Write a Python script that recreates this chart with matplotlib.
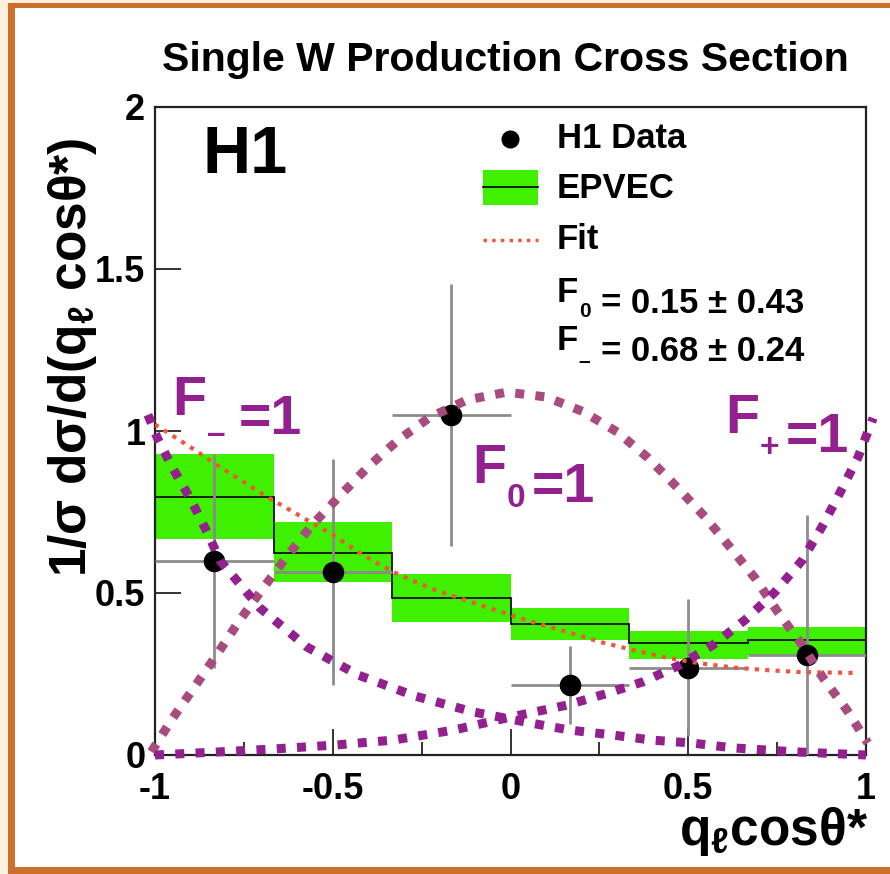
import matplotlib
matplotlib.use('Agg')
import matplotlib.pyplot as plt
from matplotlib.patches import Rectangle
import numpy as np

plt.rcParams['font.family'] = ['Liberation Sans', 'DejaVu Sans']
plt.rcParams['font.weight'] = 'bold'
plt.rcParams['axes.unicode_minus'] = False
plt.rcParams['mathtext.fontset'] = 'custom'
plt.rcParams['mathtext.rm'] = 'Liberation Sans:bold'
plt.rcParams['mathtext.bf'] = 'Liberation Sans:bold'
plt.rcParams['mathtext.it'] = 'Liberation Sans:italic'
plt.rcParams['mathtext.default'] = 'rm'

# bins in q_l cos(theta*)
bin_edges = [-1.0, -2/3, -1/3, 0.0, 1/3, 2/3, 1.0]

# H1 data points
data_x = [-0.833, -0.5, -0.167, 0.167, 0.5, 0.833]
data_y = [0.60, 0.565, 1.05, 0.215, 0.27, 0.31]
data_err = [0.33, 0.35, 0.405, 0.12, 0.21, 0.43]

# EPVEC prediction and its band
epvec = [0.795, 0.623, 0.485, 0.404, 0.346, 0.355]
epvec_lo = [0.667, 0.534, 0.41, 0.355, 0.296, 0.31]
epvec_hi = [0.93, 0.72, 0.56, 0.454, 0.383, 0.395]

# fit curve
fit_x = [-1.0, -0.9, -0.826, -0.685, -0.564, -0.5, -0.415, -0.33, -0.226, -0.133, 0.0,
         0.063, 0.159, 0.252, 0.345, 0.44, 0.533, 0.626, 0.72, 0.814, 0.98]
fit_y = [1.02, 0.95, 0.895, 0.797, 0.72, 0.68, 0.617, 0.565, 0.515, 0.48, 0.432,
         0.41, 0.38, 0.349, 0.324, 0.3, 0.283, 0.27, 0.262, 0.256, 0.253]

# helicity curves F-=1, F0=1, F+=1
fm_x = [-1.02, -0.994, -0.952, -0.90, -0.85, -0.817, -0.705, -0.572, -0.429, -0.269,
        -0.105, 0.055, 0.167, 0.285, 0.398, 0.51, 0.626, 0.795, 1.0]
fm_y = [1.05, 0.98, 0.889, 0.79, 0.68, 0.60, 0.454, 0.333, 0.247, 0.182,
        0.133, 0.099, 0.077, 0.062, 0.046, 0.037, 0.022, 0.01, 0.0]

f0_x = [-1.01, -0.952, -0.887, -0.823, -0.761, -0.696, -0.626, -0.558, -0.48, -0.40,
        -0.316, -0.226, -0.122, -0.01, 0.10, 0.204, 0.30, 0.387, 0.468, 0.547,
        0.617, 0.688, 0.752, 0.82, 0.879, 0.946, 1.005]
f0_y = [0.01, 0.111, 0.213, 0.315, 0.417, 0.515, 0.617, 0.71, 0.80, 0.89,
        0.972, 1.043, 1.096, 1.12, 1.105, 1.06, 0.997, 0.917, 0.827, 0.735,
        0.642, 0.546, 0.441, 0.34, 0.238, 0.139, 0.037]

fp_x = [-1.0, -0.83, -0.66, -0.49, -0.33, -0.16, 0.0, 0.159, 0.271, 0.373, 0.477,
        0.57, 0.66, 0.744, 0.82, 0.876, 0.927, 0.978, 1.02]
fp_y = [0.0, 0.009, 0.019, 0.031, 0.046, 0.077, 0.117, 0.154, 0.19, 0.226, 0.278,
        0.34, 0.417, 0.503, 0.60, 0.704, 0.81, 0.92, 1.04]

xticks = [-1, -0.5, 0, 0.5, 1]
xtick_labels = ['-1', '-0.5', '0', '0.5', '1']
yticks = [0, 0.5, 1, 1.5, 2]
ytick_labels = ['0', '0.5', '1', '1.5', '2']

green = '#3ff000'
purple = '#93208f'
mauve = '#a84c7e'
red = '#f2553c'
W, H = 890, 874

fig = plt.figure(figsize=(8.9, 8.74), dpi=100)
fig.patch.set_facecolor('#fdf0dc')
# orange frame
fig.patches.append(Rectangle((8/W, -0.1), 1.2, 1.1 - 3/H, transform=fig.transFigure,
                             facecolor='#cc6e2c', edgecolor='none', zorder=-10))
fig.patches.append(Rectangle((15/W, 7/H), 1.2, 1 - 15/H, transform=fig.transFigure,
                             facecolor='white', edgecolor='none', zorder=-9))

ax = fig.add_axes([155/W, 1 - 755/H, 711/W, 648/H])
ax.set_facecolor('none')

centers = [(bin_edges[i] + bin_edges[i+1]) / 2 for i in range(6)]
widths = np.diff(bin_edges)

# EPVEC band + line
ax.bar(centers, np.array(epvec_hi) - np.array(epvec_lo), bottom=epvec_lo, width=widths,
       color=green, linewidth=0, zorder=1)
ax.stairs(epvec, bin_edges, baseline=None, color='#111111', linewidth=1.3, zorder=2)

# data
dx = np.array(data_x)
xerr = [dx - np.array(bin_edges[:-1]), np.array(bin_edges[1:]) - dx]
ax.errorbar(data_x, data_y, yerr=data_err, xerr=xerr, fmt='none', ecolor='#8c8c8c',
            elinewidth=2, capsize=0, zorder=3)
ax.plot(data_x, data_y, 'o', color='black', markersize=14.5, zorder=4)

# fit
ax.plot(fit_x, fit_y, color=red, linewidth=3, linestyle=(0, (1, 1.5)), zorder=5)

# helicity curves
ax.plot(f0_x, f0_y, color=mauve, linewidth=6.5, linestyle=(0, (1, 1.25)), zorder=6, clip_on=False)
ax.plot(fm_x, fm_y, color=purple, linewidth=6.5, linestyle=(0, (1, 1.25)), zorder=7, clip_on=False)
ax.plot(fp_x, fp_y, color=purple, linewidth=6.5, linestyle=(0, (1, 1.25)), zorder=7, clip_on=False)

ax.set_xlim(-1, 1)
ax.set_ylim(0, 2)
ax.set_xticks(xticks)
ax.set_xticklabels(xtick_labels)
ax.set_xticks([-0.75, -0.25, 0.25, 0.75], minor=True)
ax.set_yticks(yticks)
ax.set_yticklabels(ytick_labels)
ax.tick_params(axis='both', which='major', direction='in', length=19, width=1.4,
               color='#333333', labelsize=26)
ax.tick_params(axis='x', which='minor', direction='in', length=9.5, width=1.4, color='#333333')
ax.tick_params(axis='x', which='major', pad=12)
ax.tick_params(axis='y', which='major', pad=7)
for s in ax.spines.values():
    s.set_linewidth(1.6)
    s.set_color('#222222')


def f_label(x, y, sub, rest, size, color='black', sub_drop=0.22, gap=0.2):
    # "F" with a small subscript, then the rest of the text
    t = ax.text(x, y, 'F', transform=ax.transAxes, fontsize=size, color=color,
                va='baseline', ha='left')
    s = ax.annotate(sub, xy=(1, 0), xycoords=t, xytext=(0.5, -sub_drop * size),
                    textcoords='offset points', fontsize=size * 0.6, color=color,
                    va='baseline', ha='left')
    ax.annotate(rest, xy=(1, 0), xycoords=s, xytext=(gap * size, sub_drop * size),
                textcoords='offset points', fontsize=size, color=color,
                va='baseline', ha='left')


# texts
fig.text(505/W, 1 - 60/H, 'Single W Production Cross Section', ha='center', va='center',
         fontsize=29.5)
ax.text(0.0675, 0.924, 'H1', transform=ax.transAxes, fontsize=48, va='center', ha='left')

f_label(0.024, 0.525, '\u2013', '=1', 40, purple, sub_drop=0.3, gap=0.25)
f_label(0.446, 0.42, '0', '=1', 40, purple, gap=0.12)
f_label(0.802, 0.497, '+', '=1', 40, purple, gap=0.12)

# legend
lx0, lx1, tx = 0.461, 0.539, 0.565
ax.plot([0.499], [0.951], 'o', color='black', markersize=12, transform=ax.transAxes,
        clip_on=False)
ax.text(tx, 0.951, 'H1 Data', transform=ax.transAxes, fontsize=25, va='center')
ax.add_patch(Rectangle((lx0, 0.849), lx1 - lx0, 0.054, transform=ax.transAxes,
                       facecolor=green, edgecolor='none'))
ax.plot([lx0, lx1], [0.877, 0.877], color='#111111', linewidth=1.3, transform=ax.transAxes)
ax.text(tx, 0.875, 'EPVEC', transform=ax.transAxes, fontsize=25, va='center')
ax.plot([lx0, lx1], [0.795, 0.795], color=red, linewidth=2.5, linestyle=(0, (1, 1.5)),
        transform=ax.transAxes)
ax.text(tx, 0.795, 'Fit', transform=ax.transAxes, fontsize=25, va='center')
f_label(tx, 0.699, '0', '= 0.15 ± 0.43', 25, gap=0.3)
f_label(tx, 0.625, '\u2013', '= 0.68 ± 0.24', 25, sub_drop=0.3, gap=0.3)

# axis titles
fig.text(73/W, 1 - 357/H, r'1/σ dσ/d(q$_{\ell}$ cosθ*)', rotation=90, ha='center',
         va='center', fontsize=37)
fig.text(868/W, 1 - 831/H, r'q$_{\ell}$cosθ*', ha='right', va='center', fontsize=37)

fig.savefig('out.png', dpi=100)
